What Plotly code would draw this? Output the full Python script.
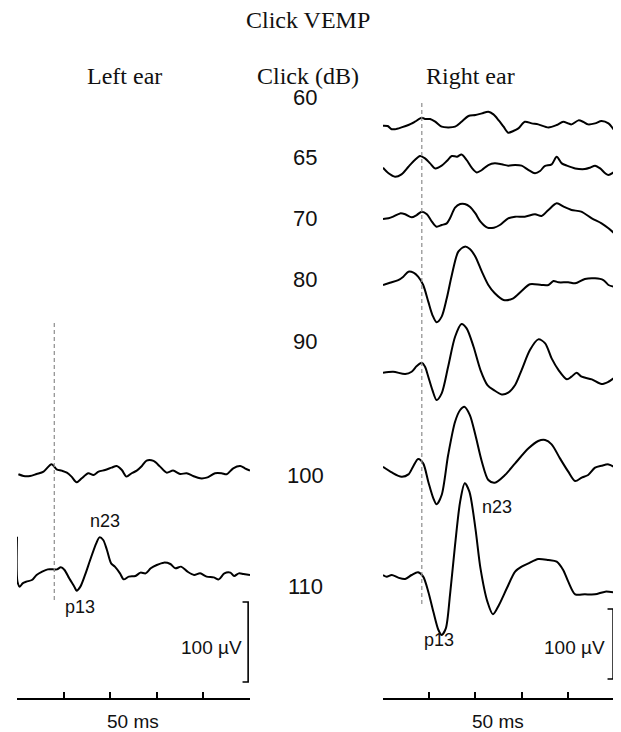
import plotly.graph_objects as go

W, H = 621, 732          # browser window
OX, OY = 8, 8            # page body margin
FW, FH = W - OX, H - OY  # figure size

# ---------------- data: time (ms) and amplitude (µV, relative to each trace's baseline) ----------------
DB_LABELS = ["60", "65", "70", "80", "90", "100", "110"]
TICKS_MS = [0, 10, 20, 30, 40, 50]
SCALE_UV = 100
MARK_MS_LEFT = 8.0
MARK_MS_RIGHT = 8.4

# Right ear
R60_T = [0, 1.0, 1.9, 2.6, 4.0, 5.5, 6.9, 8.4, 9.1, 10.2, 11.3, 12.7, 14.1, 15.6, 17.0, 18.5, 20.0, 21.4, 22.8,
         23.9, 25.0, 26.1, 27.1, 28.2, 29.3, 30.7, 32.2, 33.6, 35.8, 37.6, 39.0, 40.1, 40.8, 42.3, 43.3, 44.4,
         45.9, 47.3, 48.8, 49.9]
R60_V = [0, -0.5, -5, -5, -2.4, 1, 5.7, 11.4, 9.5, 9.5, 5.7, -1.4, -2.4, -1.4, 5.7, 13.8, 15.2, 17.6, 20,
         16.2, 8, -1.4, -10, -7.6, -3.8, 5.7, 3.3, 1.9, -2.4, 1, 5.7, 3.3, 1.9, 7.6, 5.7, 1.9,
         3.3, 6.7, 3.3, -5.2]

R65_T = [0, 1.2, 2.6, 4.0, 5.5, 6.9, 8.0, 9.1, 10.2, 11.3, 12.7, 13.8, 14.9, 16.0, 17.0, 18.1, 19.2, 20.3, 21.4,
         22.8, 24.2, 25.7, 27.1, 28.6, 30.0, 31.5, 32.9, 34.0, 35.0, 36.5, 37.6, 38.7, 39.8, 41.6, 43.7, 44.8,
         45.9, 47.0, 48.1, 48.8, 49.9]
R65_V = [0, -8, -12.9, -9.5, 1.4, 11, 16.7, 13.3, 6.2, -1, 2.9, 9.5, 16.7, 15.7, 19, 11, 0, -6.7, -3.3,
         3.8, 6.2, 4.8, 2.9, 3.8, 2.9, -3.3, -8, -4.8, 2.4, 4.8, 15.7, 6.2, 2.9, -1, -1.9, 0,
         2.9, -1, -8, -10.5, -6.7]

R70_T = [0, 1.2, 2.2, 3.7, 4.8, 6.2, 7.3, 8.4, 9.5, 10.5, 11.6, 12.7, 13.8, 14.5, 15.6, 16.7, 17.7, 18.8, 20.0,
         21.1, 22.6, 24.0, 25.3, 27.1, 28.6, 30.7, 32.9, 34.3, 35.8, 37.6, 39.1, 40.8, 42.9, 45.2, 47.3, 48.8,
         49.9]
R70_V = [0, 1, 3.3, 8, 6.7, 2.4, 5.7, 10.5, 6.7, -2.9, -11, -8.6, -6.2, 1, 16.2, 21.4, 21.4, 17.6, 8,
         -3.8, -12.4, -12.4, -8.6, 1, 3.3, 3.3, 6.7, 4.3, 12.9, 22.4, 17.6, 12.9, 10.5, 1, -6.2, -13.3,
         -19.5]

R80_T = [0, 1.5, 3.3, 4.4, 5.5, 6.6, 7.6, 8.7, 9.8, 10.7, 11.6, 12.7, 13.8, 14.9, 16.3, 17.7, 18.8, 20.0, 21.4,
         22.8, 24.2, 26.1, 28.2, 30.0, 31.8, 34.3, 35.8, 36.9, 38.0, 40.1, 41.6, 43.7, 45.9, 47.7, 48.8, 49.9]
R80_V = [0, 3.3, 7.1, 11.9, 19, 17.6, 11.9, 0, -23.8, -42.9, -53.3, -45.2, -19, 14.3, 47.6, 54.8, 51.4, 40.5, 19,
         0, -11.9, -21.4, -19, -8.6, 1, 0, 0, 5.7, 3.8, 3.8, 2.4, 8.6, 9.5, 7.1, 0, -2.4]

R90_T = [0, 2.2, 4.8, 6.2, 7.3, 8.4, 9.1, 9.8, 10.7, 11.6, 12.7, 14.1, 15.6, 17.0, 18.1, 19.6, 21.1, 22.6, 24.0,
         25.7, 27.1, 28.6, 30.0, 31.8, 33.6, 35.1, 36.5, 38.0, 39.8, 40.8, 41.9, 43.0, 45.2, 47.3, 48.8, 49.9]
R90_V = [0, 1.4, -1.9, 1.4, 9.5, 14.3, 8.6, -5.7, -24.8, -39, -29.5, 8.6, 51.4, 69.5, 63.3, 37.1, 3.8, -17.6, -24.8,
         -31, -28.6, -17.6, 3.8, 32.4, 47.6, 41.9, 20.5, 3.8, -9.5, -5.7, 0, -5.7, -9.5, -16.2, -12.9, -8.1]

R100_T = [0, 1.9, 4.0, 5.5, 6.5, 7.6, 8.7, 9.8, 10.9, 11.6, 12.7, 14.1, 15.6, 16.7, 17.6, 18.8, 20.0, 21.4, 22.8,
          24.2, 26.4, 28.6, 31.5, 33.6, 35.1, 36.5, 38.3, 40.1, 41.6, 43.0, 44.4, 45.9, 47.3, 48.8, 49.9]
R100_V = [0, -8.1, -14.3, -11, 0, 11, 4.8, -21.4, -45.2, -53.8, -40.5, 16.7, 64.3, 81, 85.7, 73.8, 45.2, 7.1, -19,
          -22.9, -11.9, 4.8, 26.2, 36.7, 38.1, 31.9, 11.9, -7.1, -20.5, -15.7, -11.9, -1.4, 1.4, 3.3, 0]

R110_T = [0, 0.8, 1.9, 3.3, 4.8, 6.2, 7.6, 8.7, 9.8, 10.9, 12.0, 12.7, 13.6, 14.5, 15.6, 16.7, 17.7, 18.7, 20.0,
          21.1, 22.6, 23.8, 25.1, 26.8, 28.6, 30.0, 31.5, 33.6, 35.8, 37.6, 39.0, 40.1, 41.6, 43.7, 45.9, 48.1,
          49.9]
R110_V = [0, -2.4, 0, -3.8, -5.7, 0, 3.8, -2.4, -23.8, -52.4, -78.6, -85.7, -76.2, -28.6, 42.9, 104.8, 131, 119,
          66.7, 9.5, -38.1, -56.2, -42.9, -19, 4.8, 11.9, 16.7, 22.9, 21.4, 19, 7.1, -9.5, -27.6, -27.6, -27.6,
          -23.8, -24.8]

# Left ear
L100_T = [0.3, 1.4, 2.8, 4.2, 5.7, 7.4, 8.5, 9.6, 10.7, 11.7, 12.8, 13.9, 15.3, 16.4, 17.5, 18.9, 20.3, 21.4, 22.5,
          23.5, 24.6, 25.7, 26.8, 27.8, 29.3, 30.7, 32.1, 33.5, 35.0, 36.4, 37.8, 39.3, 40.7, 42.5, 43.9, 45.0,
          46.4, 47.9, 48.9, 50.0]
L100_V = [0, -2.1, -2.1, 0.4, 3.3, 12.5, 6.3, 4.6, 2.1, -2.9, -10, -5, 1.3, -0.8, 3.3, 5.4, 8.3, 10.4, 5.4,
          -2.9, 1.3, 4.6, 10.4, 17.1, 16.7, 9.6, 2.1, 4.6, 0.4, 1.3, -2.1, -5, -4.2, 1.3, 1.3, 0,
          7.5, 10.4, 7.5, 4.6]

L110_T = [0, 0.1, 0.6, 1.2, 2.0, 3.2, 4.2, 5.4, 6.6, 7.7, 8.6, 9.4, 10.2, 11.2, 12.3, 12.8, 13.6, 14.6, 15.7, 17.0,
          17.7, 18.5, 19.3, 20.2, 21.0, 22.1, 22.9, 24.0, 25.4, 26.5, 27.6, 28.7, 30.0, 31.5, 32.9, 34.0, 35.2,
          36.6, 38.0, 39.3, 40.7, 42.2, 43.3, 44.5, 45.8, 46.6, 47.6, 48.6, 50.0]
L110_V = [54, -2, -8.3, -4.2, -2.1, 0, 6.3, 10.4, 13.3, 13.3, 13.3, 15.8, 12.5, 2.1, -8.3, -13.3, -8.3, 6.3, 25,
          45.8, 53.3, 50, 37.5, 20.8, 16.7, 8.3, 0.8, 4.2, 5, 9.2, 8.3, 14.6, 18.8, 21.7, 20, 14.6, 16.7,
          10.4, 6.3, 8.3, 4.2, 3.3, 0.8, 8.3, 9.2, 5, 8.3, 7.5, 6.3]

RIGHT = [(R60_T, R60_V), (R65_T, R65_V), (R70_T, R70_V), (R80_T, R80_V),
         (R90_T, R90_V), (R100_T, R100_V), (R110_T, R110_V)]
LEFT = [(L100_T, L100_V), (L110_T, L110_V)]

# ---------------- layout (window pixel positions) ----------------
PX_PER_UV_L = 0.80
PX_PER_UV_R = 0.70
LEFT_X = (17, 250)
RIGHT_X = (383, 614)
AXIS_Y = 699
ROW_R = [125.7, 167.7, 219, 285, 372.7, 466.7, 575]
ROW_L = [474.3, 580]
LABEL_Y = [97, 158, 218, 279, 341, 475, 586]
MARK_L_PX = (323, 602)
MARK_R_PX = (103, 606)
BAR_L_BOTTOM = 682
BAR_R_BOTTOM = 679


def uv_l(py):
    return (H - py) / PX_PER_UV_L


def uv_r(py):
    return (H - py) / PX_PER_UV_R


def px(x, y):
    return (x - OX) / FW, 1 - (y - OY) / FH


fig = go.Figure()
LINE = dict(color="black", width=2, shape="spline", smoothing=0.8)

for (t, v), row in zip(RIGHT, ROW_R):
    base = uv_r(row)
    fig.add_trace(go.Scatter(x=t, y=[base + a for a in v], mode="lines", line=LINE,
                             xaxis="x2", yaxis="y2", hoverinfo="skip"))
for (t, v), row in zip(LEFT, ROW_L):
    base = uv_l(row)
    fig.add_trace(go.Scatter(x=t, y=[base + a for a in v], mode="lines", line=LINE,
                             xaxis="x", yaxis="y", hoverinfo="skip"))

DASH = dict(color="#8c8c8c", width=1.2, dash="4px,3px")
fig.add_trace(go.Scatter(x=[MARK_MS_LEFT] * 2, y=[uv_l(MARK_L_PX[0]), uv_l(MARK_L_PX[1])],
                         mode="lines", line=DASH, xaxis="x", yaxis="y", hoverinfo="skip"))
fig.add_trace(go.Scatter(x=[MARK_MS_RIGHT] * 2, y=[uv_r(MARK_R_PX[0]), uv_r(MARK_R_PX[1])],
                         mode="lines", line=DASH, xaxis="x2", yaxis="y2", hoverinfo="skip"))

# scale bars (100 µV)
BAR = dict(color="black", width=1.6)
bl = uv_l(BAR_L_BOTTOM)
fig.add_trace(go.Scatter(x=[48.4, 49.6, 49.6, 48.4], y=[bl, bl, bl + SCALE_UV, bl + SCALE_UV],
                         mode="lines", line=BAR, xaxis="x", yaxis="y", hoverinfo="skip", cliponaxis=False))
br = uv_r(BAR_R_BOTTOM)
fig.add_trace(go.Scatter(x=[48.6, 49.8, 49.8, 48.6], y=[br, br, br + SCALE_UV, br + SCALE_UV],
                         mode="lines", line=BAR, xaxis="x2", yaxis="y2", hoverinfo="skip", cliponaxis=False))

xcommon = dict(range=[0, 50], showgrid=False, zeroline=False, showline=True, linecolor="black",
               linewidth=1.6, ticks="inside", ticklen=6, tickwidth=1.6, tickcolor="black",
               tickvals=TICKS_MS, showticklabels=False, anchor="free", position=1 - (AXIS_Y - OY) / FH)
fig.update_layout(
    width=FW, height=FH, margin=dict(l=0, r=0, t=0, b=0),
    paper_bgcolor="white", plot_bgcolor="white", showlegend=False,
    xaxis=dict(domain=[px(LEFT_X[0], 0)[0], px(LEFT_X[1], 0)[0]], **xcommon),
    xaxis2=dict(domain=[px(RIGHT_X[0], 0)[0], min(1, px(RIGHT_X[1], 0)[0])], **xcommon),
    yaxis=dict(domain=[0, 1], range=[0, FH / PX_PER_UV_L], visible=False, anchor="x"),
    yaxis2=dict(domain=[0, 1], range=[0, FH / PX_PER_UV_R], visible=False, anchor="x2"),
)

SERIF = "Liberation Serif, Times New Roman, serif"
SANS = "Liberation Sans, Arial, sans-serif"


def text(s, x, y, size, family=SANS, anchor="center"):
    ax, ay = px(x, y)
    fig.add_annotation(text=s, x=ax, y=ay, xref="paper", yref="paper", showarrow=False,
                       xanchor=anchor, yanchor="middle", font=dict(family=family, size=size, color="#111"))


text("Click VEMP", 308, 20, 24, SERIF)
text("Left ear", 124, 76, 24, SERIF)
text("Click (dB)", 308, 76, 24, SERIF)
text("Right ear", 470, 76, 24, SERIF)
for lab, y in zip(DB_LABELS, LABEL_Y):
    text(lab, 305, y, 22)
text("n23", 105, 521, 18)
text("p13", 80, 607, 18)
text("n23", 497, 507, 18)
text("p13", 439, 640, 18)
text("100 µV", 244, 647, 19, anchor="right")
text("100 µV", 607, 647, 19, anchor="right")
text("50 ms", 133, 721, 19)
text("50 ms", 498, 721, 19)

fig.write_html("out.html")
